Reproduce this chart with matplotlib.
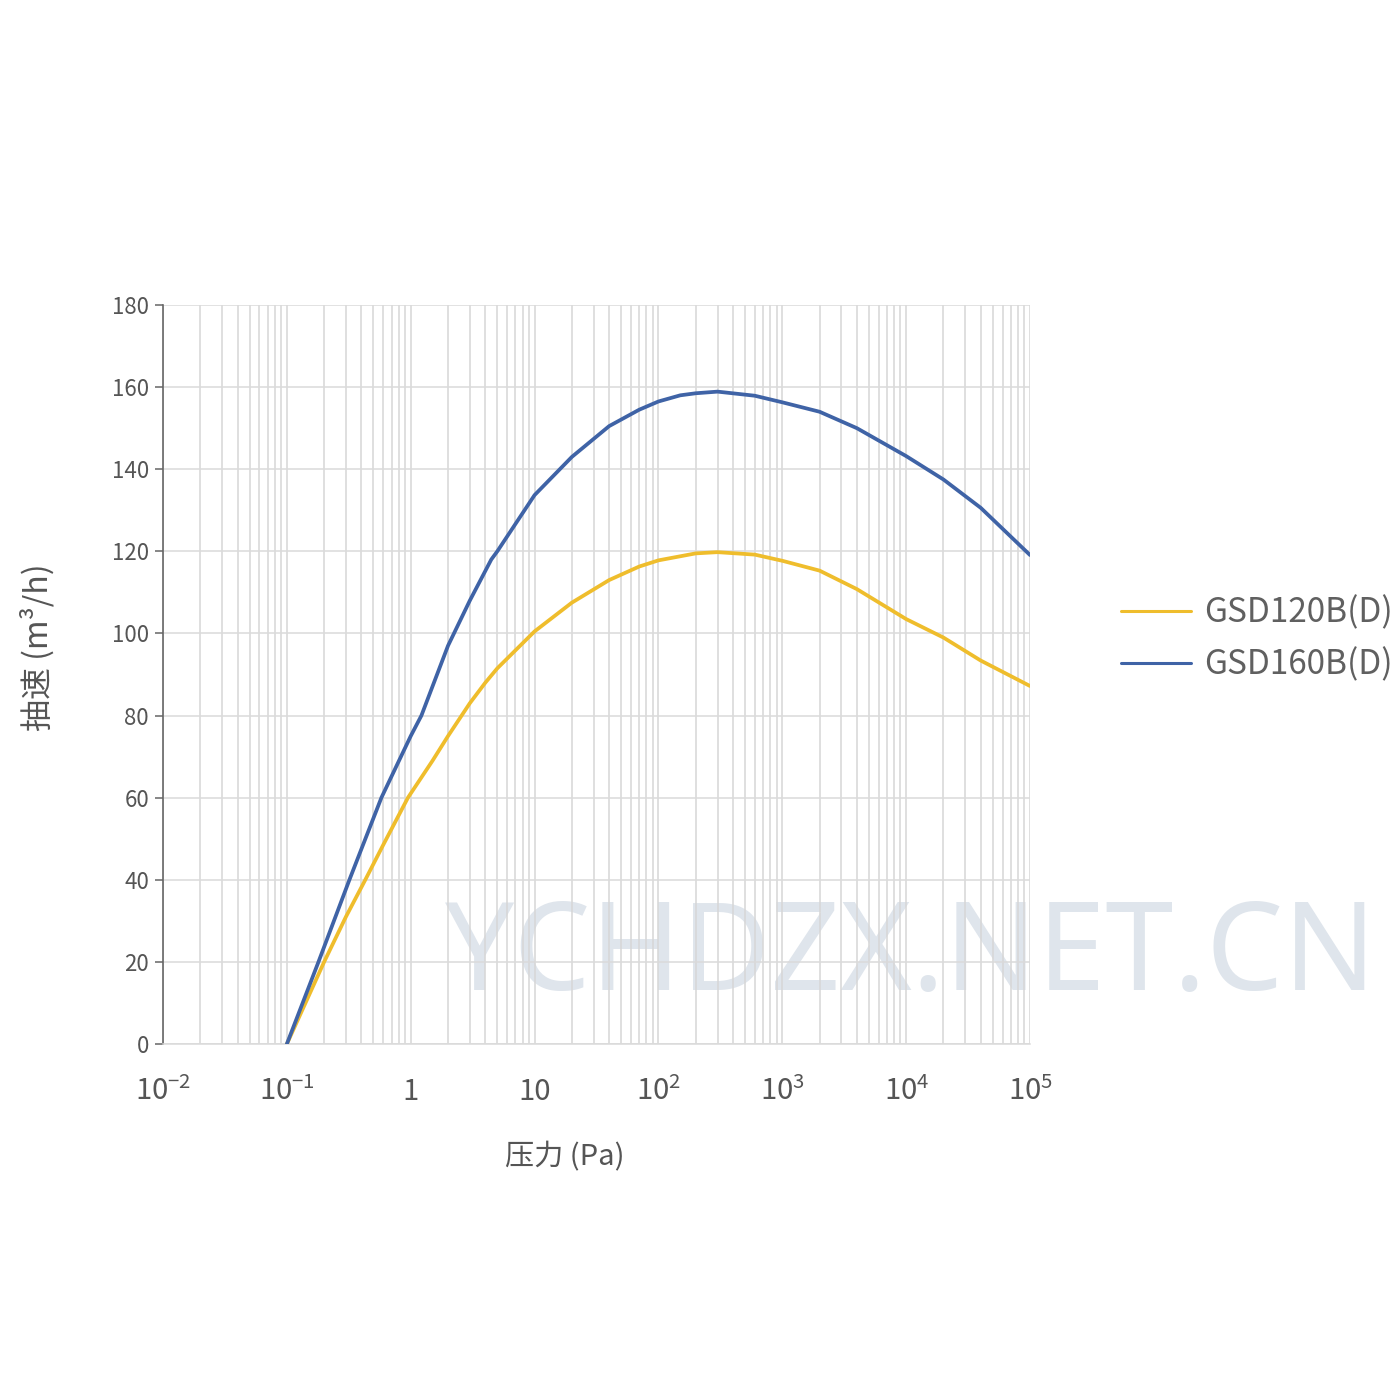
import matplotlib
matplotlib.use("Agg")
import matplotlib.pyplot as plt
from matplotlib.ticker import FixedLocator, LogLocator, NullFormatter

plt.rcParams['font.family'] = ['Noto Sans CJK SC', 'DejaVu Sans']
plt.rcParams['mathtext.fontset'] = 'custom'
plt.rcParams['mathtext.rm'] = 'Noto Sans CJK SC'
plt.rcParams['mathtext.it'] = 'Noto Sans CJK SC'
plt.rcParams['mathtext.bf'] = 'Noto Sans CJK SC'

# ---- data ----
series_names = ["GSD120B(D)", "GSD160B(D)"]
pressure_120 = [0.1, 0.2, 0.3, 0.43, 0.6, 0.95, 1.5, 2.0, 3.0, 4.0, 5.0, 10, 20, 40, 70,
                100, 200, 300, 600, 1000, 2000, 4000, 1e4, 2e4, 4e4, 1e5]
speed_120 = [0, 20, 31, 40, 48.5, 60, 69, 75, 83, 88, 91.5, 100.5, 107.5, 113, 116.3,
             117.8, 119.5, 119.8, 119.2, 117.7, 115.3, 110.8, 103.5, 99, 93.4, 87.2]
pressure_160 = [0.1, 0.18, 0.32, 0.58, 1.0, 1.22, 2.0, 3.0, 4.47, 5.0, 10, 20, 40, 70,
                100, 150, 200, 300, 600, 1000, 2000, 4000, 1e4, 2e4, 4e4, 1e5]
speed_160 = [0, 20, 40, 60, 75, 80, 97, 108, 118, 120, 133.7, 143, 150.5, 154.5,
             156.5, 158, 158.5, 158.9, 157.9, 156.3, 154, 150, 143.2, 137.5, 130.6, 119.1]
x_tick_values = [1e-2, 1e-1, 1, 10, 1e2, 1e3, 1e4, 1e5]
x_tick_labels = [r'$\mathregular{10^{-2}}$', r'$\mathregular{10^{-1}}$', '1', '10',
                 r'$\mathregular{10^{2}}$', r'$\mathregular{10^{3}}$',
                 r'$\mathregular{10^{4}}$', r'$\mathregular{10^{5}}$']
y_tick_values = [0, 20, 40, 60, 80, 100, 120, 140, 160, 180]
x_label = "压力 (Pa)"
y_label = "抽速 (m³/h)"
watermark = "YCHDZX.NET.CN"

color_120 = "#efbd2c"
color_160 = "#3f63a6"
text_color = "#555555"

fig = plt.figure(figsize=(14, 14), dpi=100)
fig.patch.set_facecolor("white")
ax = fig.add_axes([163/1400, 1-1044/1400, (1030-163)/1400, (1044-305)/1400])
ax.set_facecolor("none")

fig.text(445/1400, 1-990/1400, watermark, fontsize=88, color="#dfe5ec",
         family=["Noto Sans", "DejaVu Sans"], ha="left", va="baseline", zorder=-1)

ax.plot(pressure_120, speed_120, color=color_120, lw=2.7, label=series_names[0],
        solid_capstyle='round', solid_joinstyle='round', zorder=3)
ax.plot(pressure_160, speed_160, color=color_160, lw=2.7, label=series_names[1],
        solid_capstyle='round', solid_joinstyle='round', zorder=3)

ax.set_xscale('log')
ax.set_xlim(1e-2, 1e5)
ax.set_ylim(0, 180)
ax.xaxis.set_major_locator(FixedLocator(x_tick_values))
ax.xaxis.set_minor_locator(LogLocator(base=10, subs=range(2, 10), numticks=100))
ax.xaxis.set_minor_formatter(NullFormatter())
ax.set_xticks(x_tick_values)
ax.set_xticklabels(x_tick_labels)
ax.set_yticks(y_tick_values)

ax.set_axisbelow(True)
ax.grid(which='both', axis='x', color='#d6d6d6', lw=1.1)
ax.grid(which='major', axis='y', color='#dadada', lw=1.1)

for s in ['top', 'right']:
    ax.spines[s].set_visible(False)
ax.spines['bottom'].set_color('#dadada')
ax.spines['bottom'].set_linewidth(1.1)
ax.spines['left'].set_color('#666666')
ax.spines['left'].set_linewidth(1.2)

ax.tick_params(axis='x', which='both', length=0, pad=24, labelsize=21, labelcolor=text_color)
ax.tick_params(axis='y', length=6, width=1.1, color='#666666', pad=4,
               labelsize=16, labelcolor=text_color)

fig.text(565/1400, 1-1157/1400, x_label, fontsize=21, color=text_color,
         ha='center', va='center')
fig.text(37/1400, 1-647/1400, y_label, fontsize=23, color=text_color,
         ha='center', va='center', rotation=90)

leg = fig.legend(loc='center left', bbox_to_anchor=(1121/1400, 1-639/1400),
                 frameon=False, fontsize=24, handlelength=2.1, handletextpad=0.38,
                 labelspacing=0.5, borderpad=0, borderaxespad=0)
for t in leg.get_texts():
    t.set_color('#606060')
for h in leg.get_lines():
    h.set_linewidth(2.2)

fig.savefig("out.png", dpi=100, facecolor="white")
